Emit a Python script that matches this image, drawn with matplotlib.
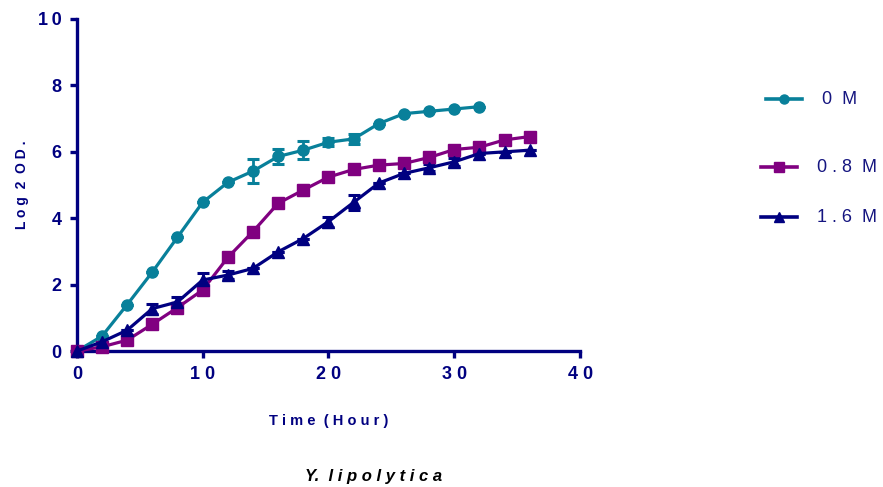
import matplotlib.pyplot as plt
from matplotlib.lines import Line2D

plt.rcParams['font.family'] = ['Liberation Sans', 'DejaVu Sans']

# Tempo (h) e log2 OD para cada concentração de sal
time_0 = [0, 2, 4, 6, 8, 10, 12, 14, 16, 18, 20, 22, 24, 26, 28, 30, 32]
od_0 = [0, 0.45, 1.40, 2.38, 3.43, 4.48, 5.08, 5.42, 5.86, 6.05, 6.29, 6.39, 6.85, 7.15, 7.22, 7.29, 7.36]
err_0 = [0, 0, 0, 0, 0, 0, 0, 0.35, 0.22, 0.28, 0.12, 0.15, 0, 0, 0, 0, 0]

time_08 = [0, 2, 4, 6, 8, 10, 12, 14, 16, 18, 20, 22, 24, 26, 28, 30, 32, 34, 36]
od_08 = [0, 0.13, 0.33, 0.81, 1.31, 1.84, 2.82, 3.60, 4.45, 4.85, 5.24, 5.47, 5.60, 5.65, 5.83, 6.07, 6.14, 6.36, 6.46]
err_08 = [0, 0, 0, 0, 0, 0, 0, 0, 0, 0.15, 0, 0, 0, 0, 0, 0, 0, 0.08, 0]

time_16 = [0, 2, 4, 6, 8, 10, 12, 14, 16, 18, 20, 22, 24, 26, 28, 30, 32, 34, 36]
od_16 = [0, 0.28, 0.63, 1.28, 1.48, 2.14, 2.29, 2.49, 2.99, 3.39, 3.90, 4.48, 5.06, 5.35, 5.52, 5.70, 5.95, 6.00, 6.05]
err_16 = [0, 0, 0, 0.15, 0.15, 0.2, 0.12, 0, 0, 0, 0.15, 0.22, 0, 0, 0.1, 0.12, 0, 0, 0]

x_ticks = [0, 10, 20, 30, 40]
y_ticks = [0, 2, 4, 6, 8, 10]

series = [
    (time_0, od_0, err_0, '#08809a', 'o', '0 M'),
    (time_08, od_08, err_08, '#800080', 's', '0.8 M'),
    (time_16, od_16, err_16, '#000080', '^', '1.6 M'),
]

axis_color = '#000080'
thin = '\u2009'

fig = plt.figure(figsize=(8.83, 4.87), dpi=100)
ax = fig.add_axes([0.087, 0.279, 0.570, 0.682])

for t, y, e, cor, mk, nome in series:
    ax.errorbar(t, y, yerr=e, color=cor, marker=mk, markersize=8, linewidth=2.3,
                elinewidth=2, capsize=4, capthick=2.2, clip_on=False, zorder=3)

ax.set_xlim(0, 40)
ax.set_ylim(0, 10)
ax.set_xticks(x_ticks)
ax.set_xticklabels([' '.join(str(v)) for v in x_ticks])
ax.set_yticks(y_ticks)
ax.set_yticklabels([thin.join(str(v)) for v in y_ticks])
for s in ['top', 'right']:
    ax.spines[s].set_visible(False)
for s in ['left', 'bottom']:
    ax.spines[s].set_color(axis_color)
    ax.spines[s].set_linewidth(2.4)
ax.tick_params(colors=axis_color, width=2.4, length=5, labelsize=13, pad=6)
for lab in ax.get_xticklabels() + ax.get_yticklabels():
    lab.set_fontweight('bold')

ax.set_xlabel('T i m e  ( H o u r )', fontsize=10.5, fontweight='bold', color=axis_color, labelpad=22)
ax.set_ylabel('L o g  2  O D .', fontsize=10, fontweight='bold',
              color=axis_color, labelpad=6)

fig.text(0.423, 0.013, 'Y.  l i p o l y t i c a', fontsize=12, fontweight='bold', style='italic',
         color='black', ha='center')

# legenda com espaçamento irregular
leg_pos = [(766, 802, 822, 99), (761, 797, 817, 167), (761, 797, 817, 217)]
for (t, y, e, cor, mk, nome), (x0, x1, xt, yp) in zip(series, leg_pos):
    yf = 1 - yp / 487
    fig.add_artist(Line2D([x0 / 883, x1 / 883], [yf, yf], color=cor, linewidth=2.6))
    fig.add_artist(Line2D([(x0 + x1) / 2 / 883], [yf], color=cor, marker=mk, markersize=6.5))
    fig.text(xt / 883, yf, ' '.join(nome.replace(' ', '')[:-1]) + '  M', fontsize=13,
             color='#151580', va='center')

fig.savefig('out.png', dpi=100)
